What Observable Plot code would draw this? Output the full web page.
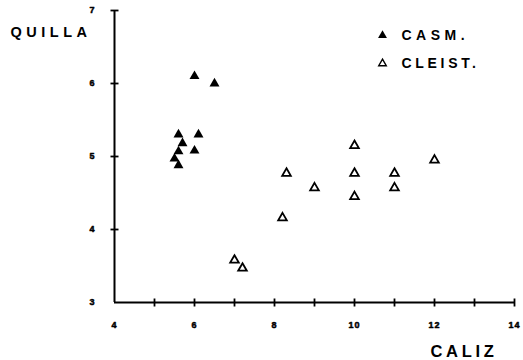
<!DOCTYPE html>
<html>
<head>
<meta charset="utf-8">
<script src="https://cdn.jsdelivr.net/npm/d3@7"></script>
<script src="https://cdn.jsdelivr.net/npm/@observablehq/plot@0.6"></script>
<style>
  html, body { margin: 0; padding: 0; background: #fff; }
</style>
</head>
<body>
<div id="chart"></div>
<script>
// Data
const casmX = [6.0, 6.5, 5.6, 6.1, 5.7, 6.0, 5.6, 5.5, 5.6];
const casmY = [6.1, 6.0, 5.3, 5.3, 5.18, 5.08, 5.07, 4.97, 4.88];
const cleistX = [10, 12, 8.3, 10, 11, 9, 11, 10, 8.2, 7.0, 7.2];
const cleistY = [5.15, 4.95, 4.77, 4.77, 4.77, 4.57, 4.57, 4.45, 4.16, 3.58, 3.47];
const xTicks = [5, 6, 7, 8, 9, 10, 11, 12, 13, 14];
const xTickLabels = [4, 6, 8, 10, 12, 14];
const yTicks = [4, 5, 6, 7];
const yTickLabels = [3, 4, 5, 6, 7];
const legendLabels = ["CASM.", "CLEIST."];
const xTitle = "CALIZ";
const yTitle = "QUILLA";

const casm = casmX.map((x, i) => ({x, y: casmY[i]}));
const cleist = cleistX.map((x, i) => ({x, y: cleistY[i]}));

const vLine = {draw(ctx, size) { const r = Math.sqrt(size / Math.PI); ctx.moveTo(0, -r); ctx.lineTo(0, r); }};
const hLine = {draw(ctx, size) { const r = Math.sqrt(size / Math.PI); ctx.moveTo(-r, 0); ctx.lineTo(r, 0); }};

const font = "'Liberation Sans', Arial, sans-serif";

const chart = Plot.plot({
  width: 523,
  height: 360,
  marginLeft: 114,
  marginRight: 9,
  marginTop: 10,
  marginBottom: 58,
  style: {fontFamily: font, background: "#fff", color: "#000"},
  x: {domain: [4, 14], axis: null},
  y: {domain: [3, 7], axis: null},
  marks: [
    Plot.ruleY([3], {x1: 4, x2: 14, stroke: "#000", strokeWidth: 2}),
    Plot.ruleX([4], {y1: 3, y2: 7, stroke: "#000", strokeWidth: 2}),
    Plot.dot(xTicks, {x: d => d, y: 3, symbol: vLine, r: 4, fill: "none", stroke: "#000", strokeWidth: 1.8}),
    Plot.dot(yTicks, {x: 4, y: d => d, symbol: hLine, r: 4, fill: "none", stroke: "#000", strokeWidth: 1.8}),
    Plot.text(xTickLabels, {x: d => d, y: 3, text: d => String(d), dy: 23, fontSize: 9, fontWeight: "bold", fill: "#000", stroke: "#000", strokeWidth: 0.5, lineAnchor: "middle"}),
    Plot.text(yTickLabels, {x: 4, y: d => d, text: d => String(d), dx: -22, fontSize: 9, fontWeight: "bold", fill: "#000", stroke: "#000", strokeWidth: 0.5, lineAnchor: "middle"}),
    Plot.dot(casm, {x: "x", y: "y", symbol: "triangle", r: 3.7, fill: "#000", stroke: "none"}),
    Plot.dot(cleist, {x: "x", y: "y", symbol: "triangle", r: 3.2, fill: "#fff", stroke: "#000", strokeWidth: 1.8}),
    // legend
    Plot.dot([legendLabels[0]], {frameAnchor: "top-right", dx: -132, dy: 25, symbol: "triangle", r: 3.3, fill: "#000", stroke: "none"}),
    Plot.dot([legendLabels[1]], {frameAnchor: "top-right", dx: -132, dy: 53, symbol: "triangle", r: 2.8, fill: "#fff", stroke: "#000", strokeWidth: 1.4}),
    Plot.text([legendLabels[0]], {frameAnchor: "top-right", dx: -113, dy: 25, text: d => d, textAnchor: "start", lineAnchor: "middle", fontSize: 14, fontWeight: "bold", fill: "#000"}),
    Plot.text([legendLabels[1]], {frameAnchor: "top-right", dx: -113, dy: 53, text: d => d, textAnchor: "start", lineAnchor: "middle", fontSize: 14, fontWeight: "bold", fill: "#000"}),
    // axis titles
    Plot.text([yTitle], {frameAnchor: "top-left", dx: -104, dy: 22, text: d => d, textAnchor: "start", lineAnchor: "middle", fontSize: 14.5, fontWeight: "bold", fill: "#000"}),
    Plot.text([xTitle], {frameAnchor: "bottom-right", dx: -84, dy: 49, text: d => d, textAnchor: "start", lineAnchor: "middle", fontSize: 16.5, fontWeight: "bold", fill: "#000"})
  ]
});

// letter spacing for the wide-set capitals
d3.select(chart).selectAll("text").each(function() {
  const t = this.textContent;
  if (t === "CASM.") this.style.letterSpacing = "4.5px";
  if (t === "CLEIST.") this.style.letterSpacing = "3.7px";
  if (t === "QUILLA") this.style.letterSpacing = "4.5px";
  if (t === "CALIZ") this.style.letterSpacing = "3.7px";
  if (/^\d+$/.test(t)) this.style.letterSpacing = "1px";
});

document.getElementById("chart").appendChild(chart);
</script>
</body>
</html>
